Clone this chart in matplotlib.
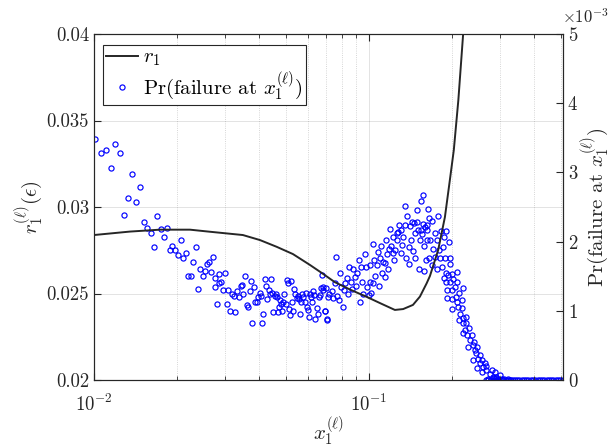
import matplotlib
matplotlib.use("Agg")
import matplotlib.pyplot as plt
import numpy as np
from matplotlib.ticker import LogLocator, NullFormatter, FormatStrFormatter, FixedLocator, FuncFormatter

plt.rcParams['font.family'] = 'cmr10'
plt.rcParams['mathtext.fontset'] = 'cm'
plt.rcParams['axes.formatter.use_mathtext'] = True

# r_1 curve (left axis)
r1_x = [0.01, 0.01352, 0.01738, 0.02234, 0.02641, 0.0348, 0.04014, 0.04617, 0.05292,
        0.06104, 0.06748, 0.07511, 0.08532, 0.09834, 0.1106, 0.1243, 0.1332, 0.1446,
        0.1533, 0.1622, 0.1667, 0.1786, 0.189, 0.197, 0.2036, 0.2115, 0.2203]
r1_y = [0.02838, 0.02858, 0.02869, 0.02869, 0.02857, 0.02838, 0.02809, 0.0277, 0.02728,
        0.02665, 0.02618, 0.02566, 0.02523, 0.0248, 0.02442, 0.02405, 0.0241, 0.02434,
        0.02482, 0.02559, 0.02601, 0.02751, 0.02942, 0.03156, 0.03329, 0.03618, 0.04006]

# failure probability samples (right axis, units of 1e-3)
pf_x = [0.01008, 0.01058, 0.01103, 0.0115, 0.01192, 0.0124, 0.01374, 0.01332, 0.01425, 0.0147,
        0.01282, 0.01515, 0.01563, 0.01608, 0.01699, 0.01748, 0.01838, 0.01653, 0.01793, 0.01885,
        0.01926, 0.01975, 0.0202, 0.02067, 0.02112, 0.0216, 0.02343, 0.02296, 0.02203, 0.02247,
        0.02389, 0.02435, 0.02484, 0.02526, 0.0257, 0.0262, 0.02664, 0.02709, 0.02754, 0.02841,
        0.028, 0.02754, 0.02848, 0.02896, 0.02944, 0.02986, 0.03036, 0.03078, 0.03122, 0.03175,
        0.03228, 0.03263, 0.03311, 0.03367, 0.03415, 0.03461, 0.0349, 0.03549, 0.03591, 0.03631,
        0.03683, 0.03723, 0.03764, 0.03818, 0.03859, 0.03905, 0.03958, 0.04014, 0.04048, 0.04092,
        0.04126, 0.04186, 0.04222, 0.04268, 0.04319, 0.04365, 0.04413, 0.0445, 0.04487, 0.0454,
        0.04589, 0.04617, 0.04656, 0.04707, 0.04747, 0.04786, 0.04827, 0.04868, 0.0492, 0.04978,
        0.0502, 0.05075, 0.05117, 0.0516, 0.05204, 0.05248, 0.05305, 0.0535, 0.05395, 0.05459,
        0.05504, 0.05551, 0.05612, 0.05673, 0.05721, 0.0577, 0.05838, 0.05887, 0.05937, 0.05987,
        0.06037, 0.06088, 0.06138, 0.06205, 0.06273, 0.06325, 0.06378, 0.06453, 0.06508, 0.06563,
        0.06634, 0.06706, 0.06763, 0.0682, 0.06901, 0.06976, 0.07036, 0.07112,
        0.06785, 0.06918, 0.07017, 0.07172, 0.07318, 0.07418, 0.07505, 0.07586, 0.07674, 0.07765,
        0.07849, 0.07935, 0.0803, 0.08117, 0.08205, 0.08302, 0.08392, 0.08485, 0.08585, 0.0868,
        0.08774, 0.08872, 0.08968, 0.09068, 0.09175, 0.09274, 0.09329, 0.09429, 0.09533, 0.09646,
        0.0975, 0.09858, 0.09975, 0.1008, 0.1019, 0.1031, 0.1043, 0.1054, 0.1067, 0.1078,
        0.109, 0.1103, 0.1115, 0.1127, 0.114, 0.1153, 0.1165, 0.1178, 0.1192, 0.1205,
        0.1219, 0.1233, 0.1246, 0.1261, 0.1275, 0.1289, 0.1304, 0.1318, 0.1332, 0.1348,
        0.1363, 0.1378, 0.1394, 0.1409, 0.1425, 0.1441, 0.1457, 0.1474, 0.1491, 0.1508,
        0.1516, 0.1533, 0.1546, 0.1559, 0.1572, 0.1585, 0.1598, 0.1612, 0.163, 0.1643, 0.1657,
        0.1008, 0.1036, 0.1096, 0.1147, 0.1185, 0.1226, 0.1267, 0.1311, 0.1355, 0.1401,
        0.1433, 0.1466, 0.1498, 0.155, 0.1622, 0.1649,
        0.1576, 0.169, 0.163, 0.1786, 0.1738, 0.1822, 0.1915, 0.1957, 0.1874, 0.1763,
        0.1667, 0.1713, 0.1801, 0.1862, 0.1738, 0.1812, 0.189, 0.198, 0.169, 0.1763,
        0.1838, 0.197, 0.1585, 0.1905, 0.1874, 0.1942, 0.1998, 0.2095, 0.1915, 0.198,
        0.2025, 0.2054, 0.1926, 0.1998, 0.213, 0.2203, 0.1931, 0.1998, 0.2072, 0.2003,
        0.2112, 0.2153, 0.213, 0.219, 0.2234, 0.2203, 0.2278, 0.233, 0.2297, 0.2383,
        0.2429, 0.2395, 0.2497, 0.2533, 0.2603, 0.2677, 0.2464, 0.257, 0.2754, 0.2831,
        0.272, 0.2911, 0.2095, 0.2173, 0.2083, 0.2173, 0.2253, 0.219, 0.2264, 0.2316,
        0.2362, 0.2408, 0.2464, 0.2449, 0.2533, 0.257, 0.2641, 0.2677, 0.2793, 0.2872, 0.2996,
        0.285, 0.29, 0.297, 0.305, 0.31, 0.32, 0.33,
        0.266, 0.272, 0.278, 0.284, 0.29, 0.296, 0.302, 0.308, 0.314, 0.32,
        0.326, 0.333, 0.339, 0.346, 0.352, 0.359, 0.366, 0.373, 0.38, 0.388,
        0.395, 0.403, 0.411, 0.419, 0.427, 0.435, 0.443, 0.452, 0.461, 0.469,
        0.478, 0.487, 0.497, 0.506]
pf_y = [3.49, 3.28, 3.33, 3.07, 3.41, 3.28, 2.97, 2.63, 2.57, 2.79,
        2.39, 2.29, 2.20, 2.13, 2.37, 2.18, 2.20, 1.92, 2.06, 1.88,
        1.94, 1.88, 1.80, 2.02, 1.76, 1.84, 1.92, 1.70, 1.50, 1.50,
        1.31, 1.61, 1.50, 1.58, 1.68, 1.70, 1.56, 1.78, 1.47, 1.53,
        1.10, 1.34, 1.40, 1.42, 1.30, 1.54, 1.10, 1.30, 1.00, 1.25,
        1.22, 0.98, 1.28, 1.20, 1.36, 1.38, 1.24, 1.50, 1.08, 1.06,
        1.28, 1.43, 0.82, 1.34, 1.12, 1.12, 1.20, 1.26, 1.21, 0.83,
        0.96, 1.46, 1.36, 1.17, 1.30, 1.25, 1.46, 1.26, 0.98, 1.21,
        1.24, 1.20, 0.98, 1.05, 1.16, 1.10, 0.99, 1.12, 1.24, 1.10,
        1.44, 1.40, 1.02, 0.94, 1.43, 1.12, 0.99, 1.31, 1.25, 1.18,
        1.21, 1.17, 0.95, 1.13, 1.25, 1.20, 1.13, 1.26, 1.05, 1.01,
        0.91, 1.24, 1.20, 1.12, 1.29, 1.23, 0.88, 1.04, 0.96, 1.20,
        1.23, 1.33, 1.52, 1.30, 1.00, 1.33, 0.88, 1.20,
        1.35, 1.00, 0.86, 1.25, 1.29, 1.18, 1.40, 1.78, 1.21, 1.16,
        1.54, 1.35, 1.05, 1.30, 1.40, 1.47, 1.24, 1.64, 1.42, 1.31,
        1.61, 1.49, 1.36, 1.55, 1.73, 1.12, 1.64, 1.41, 1.25, 1.82,
        1.63, 1.35, 1.23, 1.66, 1.26, 1.97, 1.74, 1.50, 1.66, 1.85,
        1.36, 1.94, 1.54, 1.71, 1.49, 2.03, 1.82, 1.61, 2.18, 1.93,
        2.06, 1.73, 1.88, 2.02, 2.14, 2.24, 1.83, 1.95, 2.07, 2.51,
        1.77, 2.37, 1.68, 2.23, 2.02, 1.87, 2.27, 2.13, 2.46, 2.17,
        1.61, 2.03, 2.58, 2.11, 2.67, 1.93, 2.21, 1.73, 2.02, 2.47, 2.34,
        1.42, 1.40, 1.76, 1.69, 1.90, 1.83, 2.12, 2.17, 2.24, 1.92,
        2.29, 1.76, 2.29, 2.17, 2.17, 1.76,
        2.26, 2.30, 2.24, 2.37, 2.12, 2.16, 2.16, 2.00, 2.06, 2.02,
        2.02, 1.90, 1.88, 1.92, 1.78, 1.76, 1.77, 1.76, 1.66, 1.61,
        1.64, 1.68, 1.58, 1.55, 1.47, 1.52, 1.53, 1.56, 1.42, 1.42,
        1.46, 1.35, 1.30, 1.30, 1.26, 1.33, 1.18, 1.17, 1.20, 1.02,
        1.06, 0.96, 0.87, 0.82, 0.72, 0.68, 0.65, 0.58, 0.48, 0.51,
        0.43, 0.29, 0.31, 0.24, 0.19, 0.14, 0.17, 0.12, 0.09, 0.05,
        0.02, 0.03, 1.42, 1.16, 1.13, 1.04, 0.91, 0.89, 0.82, 0.75,
        0.65, 0.55, 0.48, 0.39, 0.36, 0.29, 0.24, 0.20, 0.14, 0.11, 0.07,
        0.03, 0.04, 0.02, 0.02, 0.01, 0.01, 0.005,
        0.0, 0.0, 0.0, 0.0, 0.0, 0.0, 0.0, 0.0, 0.0, 0.0,
        0.0, 0.0, 0.0, 0.0, 0.0, 0.0, 0.0, 0.0, 0.0, 0.0,
        0.0, 0.0, 0.0, 0.0, 0.0, 0.0, 0.0, 0.0, 0.0, 0.0,
        0.0, 0.0, 0.0, 0.0]

axis_col = (0.15, 0.15, 0.15)

fig = plt.figure(figsize=(6.11, 4.47), dpi=100)
ax = fig.add_axes([0.1538, 0.1499, 0.7676, 0.774])
ax2 = ax.twinx()

# scatter on the right axis, curve on the left axis drawn above it
sc, = ax2.plot(pf_x, np.array(pf_y) * 1e-3, 'o', color='blue', markerfacecolor='none',
               markersize=3.7, markeredgewidth=0.85)
ln, = ax.plot(r1_x, r1_y, '-', color=(0.15, 0.15, 0.15), linewidth=1.4)
ax.set_zorder(ax2.get_zorder() + 1)
ax.patch.set_visible(False)

ax.set_xscale('log')
ax.set_xlim(0.01, 0.508)
ax.set_ylim(0.02, 0.04)
ax2.set_ylim(0, 5e-3)

ax.xaxis.set_major_locator(LogLocator(base=10, numticks=5))
ax.xaxis.set_minor_locator(LogLocator(base=10, subs=np.arange(2, 10), numticks=20))
ax.xaxis.set_minor_formatter(NullFormatter())
ax.yaxis.set_major_locator(FixedLocator([0.02, 0.025, 0.03, 0.035, 0.04]))
ax.yaxis.set_major_formatter(FormatStrFormatter('%g'))

ax2.yaxis.set_major_locator(FixedLocator([0, 1e-3, 2e-3, 3e-3, 4e-3, 5e-3]))
ax2.yaxis.set_major_formatter(FuncFormatter(lambda v, p: '%g' % round(v * 1e3, 6)))
fig.text(0.919, 0.948, r'$\times10^{-3}$', fontsize=12, color=axis_col,
         ha='left', va='baseline')

ax.grid(True, which='major', color=axis_col, alpha=0.15, linewidth=0.6)
ax.grid(True, which='minor', axis='x', color=axis_col, alpha=0.25, linewidth=0.6, linestyle=':')

for a in (ax, ax2):
    for s in a.spines.values():
        s.set_color(axis_col)
        s.set_linewidth(0.8)
    a.tick_params(which='both', direction='in', colors=axis_col, labelsize=13.5)
ax.tick_params(axis='x', which='both', top=True)
ax.tick_params(which='major', length=5)
ax.tick_params(which='minor', length=3)
ax2.tick_params(which='major', length=5)
ax.tick_params(axis='x', pad=10)

ax.set_xlabel(r'$x_1^{(\ell)}$', fontsize=15, color=axis_col, labelpad=0)
ax.set_ylabel(r'$r_1^{(\ell)}(\epsilon)$', fontsize=15, color=axis_col, labelpad=1)
ax2.set_ylabel(r'Pr(failure at $x_1^{(\ell)}$)', fontsize=15, color=axis_col, labelpad=1)

leg = ax.legend([ln, sc], [r'$r_1$', r'Pr(failure at $x_1^{(\ell)}$)'], loc='upper left',
                bbox_to_anchor=(0.02, 0.968), borderaxespad=0, fontsize=15, fancybox=False,
                framealpha=1, edgecolor=axis_col, handlelength=1.5, handletextpad=0.25,
                labelspacing=0.05, borderpad=0.15)
leg.get_frame().set_linewidth(0.8)

fig.savefig('out.png', dpi=100)
